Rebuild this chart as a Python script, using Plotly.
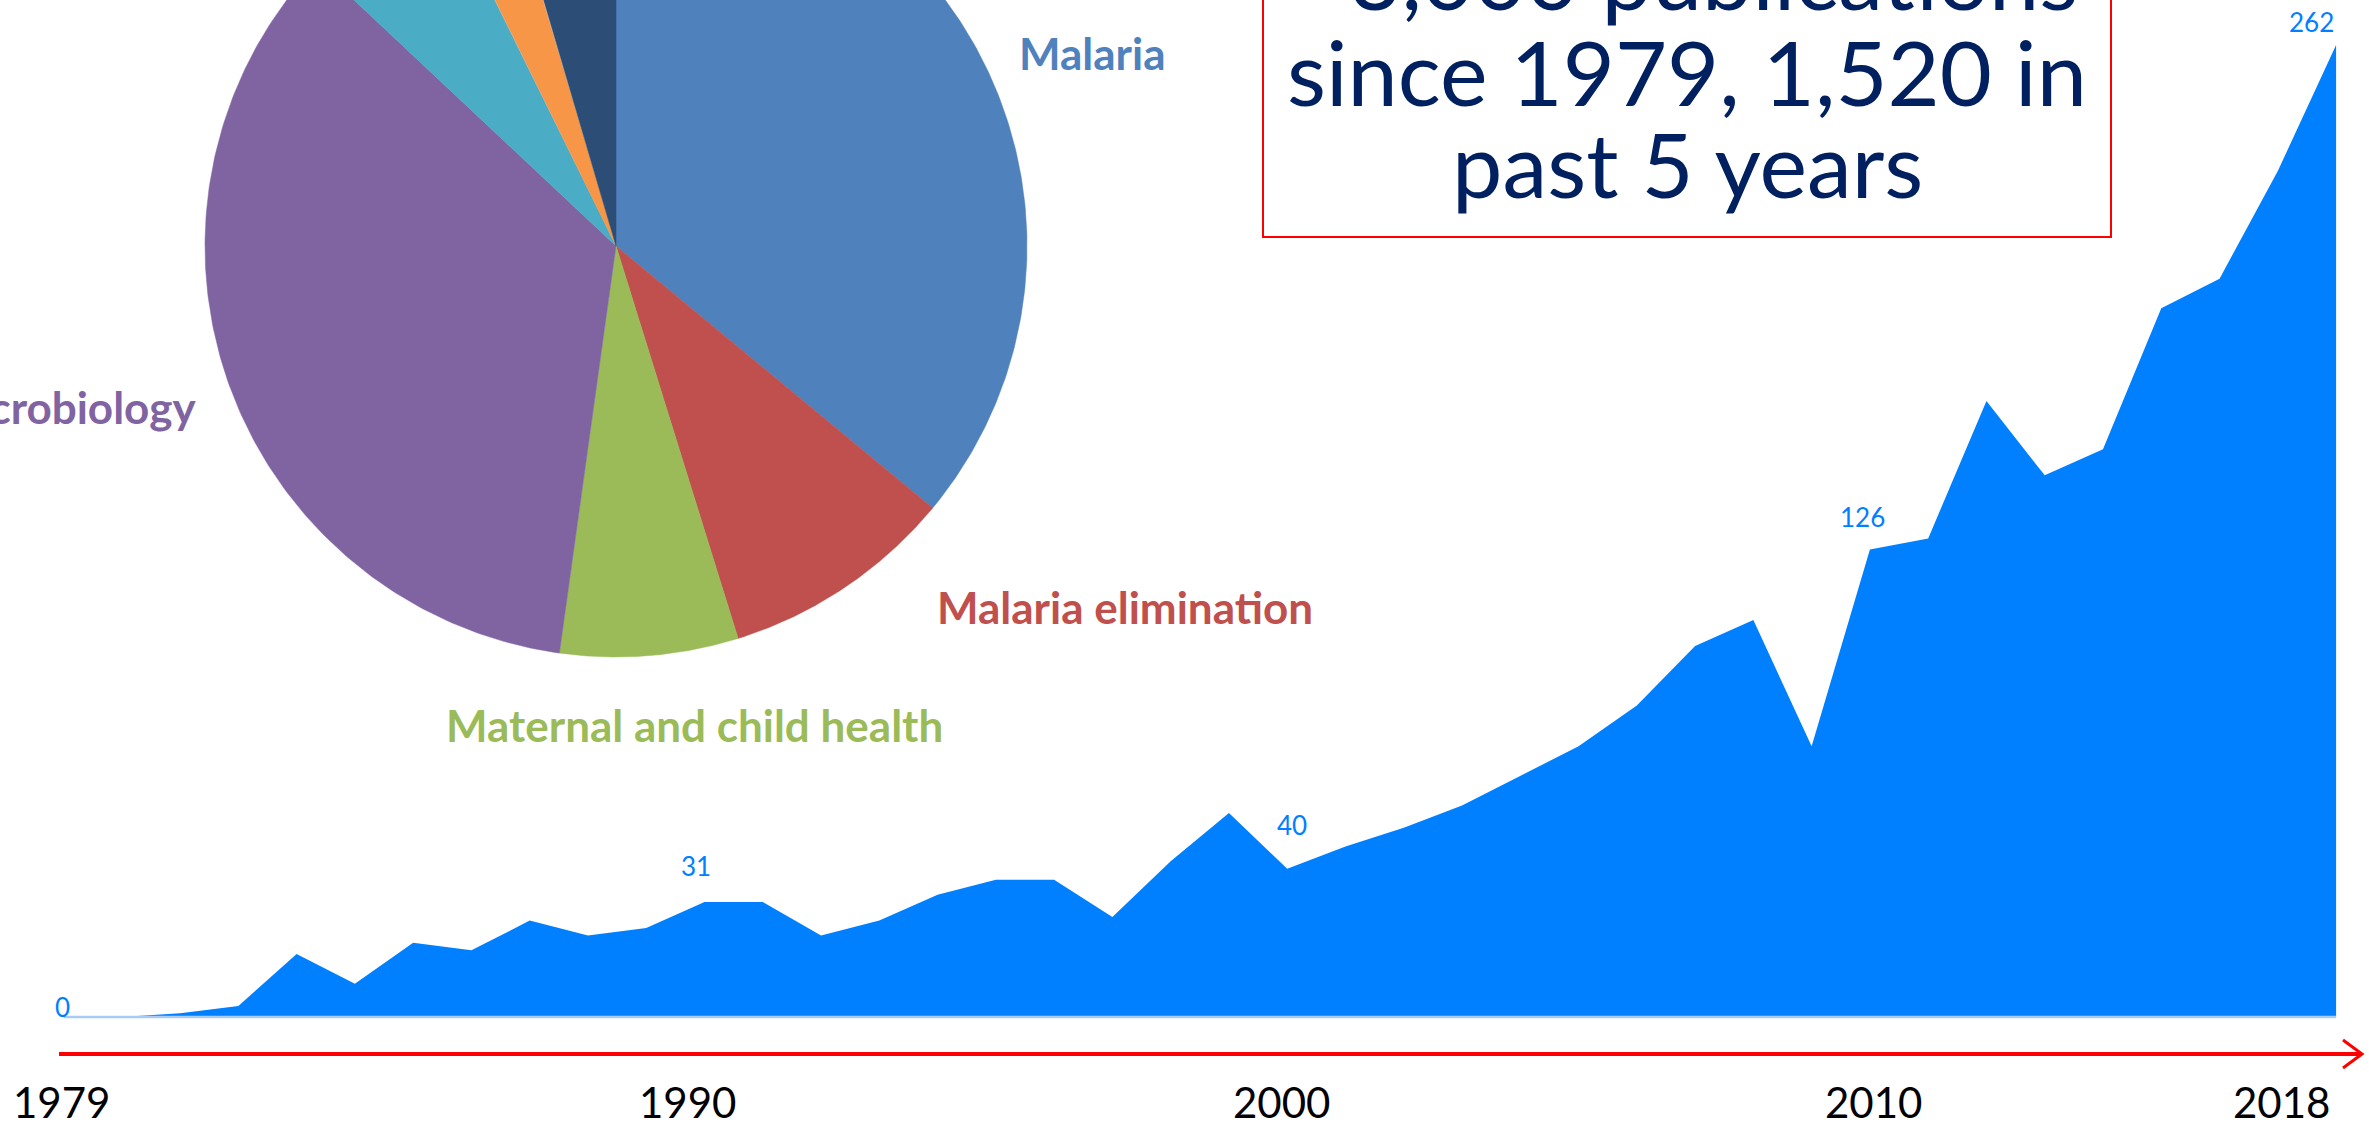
import numpy as np
import plotly.graph_objects as go

# ---------------- data ----------------
years = list(range(1979, 2019))
publications = [0, 0, 1, 3, 17, 9, 20, 18, 26, 22,
                 24, 31, 31, 22, 26, 33, 37, 37, 27, 42,
                 55, 40, 46, 51, 57, 65, 73, 84, 100, 107,
                 73, 126, 129, 166, 146, 153, 191, 199, 228, 262]
labelled_years = [1979, 1990, 2000, 2010, 2018]
tick_years = [1979, 1990, 2000, 2010, 2018]
tick_labels = ["1979", "1990", "2000", "2010", "2018"]

pie_labels = ["Malaria", "Malaria elimination", "Maternal and child health",
              "Microbiology", "Other (cyan)", "Other (orange)", "Other (navy)"]
pie_values = [36.0, 9.2, 7.0, 34.8, 5.7, 2.7, 4.6]
pie_shown_labels = ["Malaria", "Malaria elimination", "Maternal and child health", "Microbiology"]

box_lines = ["~3,000 publications", "since 1979, 1,520 in", "past 5 years"]

# ---------------- styles ----------------
W, H = 2369, 1131
FONT = "Lato"
AREA_COLOR = "#0080FF"
pie_colors = ["#4F81BD", "#C0504D", "#9BBB59", "#8064A2", "#4BACC6", "#F79646", "#2C4D75"]
BOX_TEXT_COLOR = "#002060"

fig = go.Figure()

# ---------------- pie (pixel axes x2/y2) ----------------
cx, cy, r = 616, 246, 411
total = sum(pie_values)
start = 0.0
for lab, val, col in zip(pie_labels, pie_values, pie_colors):
    a0 = start / total * 2 * np.pi
    a1 = (start + val) / total * 2 * np.pi
    th = np.linspace(a0, a1, 200)
    xs = np.concatenate([[cx], cx + r * np.sin(th), [cx]])
    ys = np.concatenate([[cy], cy - r * np.cos(th), [cy]])
    fig.add_trace(go.Scatter(x=xs, y=ys, mode="lines", fill="toself",
                             fillcolor=col, line=dict(color=col, width=0.5),
                             xaxis="x2", yaxis="y2", hoverinfo="text",
                             text=lab, showlegend=False))
    start += val

# ---------------- area chart ----------------
fig.add_trace(go.Scatter(x=years, y=publications, mode="lines", fill="tozeroy",
                         fillcolor=AREA_COLOR, line=dict(color=AREA_COLOR, width=0),
                         showlegend=False, xaxis="x", yaxis="y"))
fig.add_trace(go.Scatter(x=[years[0], years[-1]], y=[0, 0], mode="lines",
                         line=dict(color="#A8CCF8", width=2.5),
                         showlegend=False, hoverinfo="skip", xaxis="x", yaxis="y"))

annotations = []
# data labels
label_shift = {1979: (-1, 10), 1990: (-8, 36), 2000: (5, 44), 2010: (-7, 33), 2018: (-25, 23)}
for yr in labelled_years:
    v = publications[years.index(yr)]
    dx, dy = label_shift[yr]
    annotations.append(dict(x=yr, y=v, xref="x", yref="y", text=str(v), showarrow=False,
                            xanchor="center", yanchor="middle", xshift=dx, yshift=dy,
                            font=dict(family=FONT, size=26, color=AREA_COLOR)))

# tick labels
tick_shift = {1979: -2, 1990: -17, 2000: -6, 2010: 4, 2018: -4}
for yr, t in zip(tick_years, tick_labels):
    annotations.append(dict(x=yr, y=1102, xref="x", yref="y2", text=t, showarrow=False,
                            xanchor="right" if yr == tick_years[-1] else "center",
                            yanchor="middle", xshift=tick_shift[yr],
                            font=dict(family=FONT, size=42, color="black")))

# pie labels
pie_label_pos = {
    "Malaria": (1017, 53, "left"),
    "Malaria elimination": (935, 607, "left"),
    "Maternal and child health": (444, 725, "left"),
    "Microbiology": (198, 407, "right"),
}
for lab in pie_shown_labels:
    px, py, anc = pie_label_pos[lab]
    col = pie_colors[pie_labels.index(lab)]
    annotations.append(dict(x=px, y=py, xref="x2", yref="y2", text="<b>%s</b>" % lab,
                            showarrow=False, xanchor=anc, yanchor="middle",
                            font=dict(family=FONT, size=44, color=col)))

# text box lines (bottom of each text line box)
box_line_bottoms = [31, 127, 219]
for line, yb in zip(box_lines, box_line_bottoms):
    annotations.append(dict(x=1687, y=yb, xref="x2", yref="y2", text=line,
                            showarrow=False, xanchor="center", yanchor="bottom",
                            font=dict(family=FONT, size=90, color=BOX_TEXT_COLOR)))

shapes = [
    dict(type="rect", xref="x2", yref="y2", x0=1263, x1=2111, y0=-20, y1=237,
         line=dict(color="#FF0000", width=2), fillcolor="rgba(0,0,0,0)", layer="above"),
    dict(type="line", xref="x2", yref="y2", x0=59, x1=2360, y0=1054, y1=1054,
         line=dict(color="#FF0000", width=4)),
    dict(type="path", xref="x2", yref="y2", path="M 2343 1040 L 2362 1054 L 2343 1068",
         line=dict(color="#FF0000", width=3)),
]

fig.update_layout(
    width=W, height=H,
    margin=dict(l=0, r=0, t=0, b=0),
    paper_bgcolor="white", plot_bgcolor="white",
    xaxis=dict(range=[1977.91, 2018.565], visible=False, fixedrange=True),
    yaxis=dict(range=[-30.7, 274.1], visible=False, fixedrange=True),
    xaxis2=dict(range=[0, W], visible=False, overlaying="x", anchor="y2"),
    yaxis2=dict(range=[H, 0], visible=False, overlaying="y", anchor="x2"),
    annotations=annotations,
    shapes=shapes,
    font=dict(family=FONT),
)

fig.write_html("out.html",
               config={"displayModeBar": False},
               post_script="document.body.style.margin='0px';document.body.style.overflow='hidden';")
